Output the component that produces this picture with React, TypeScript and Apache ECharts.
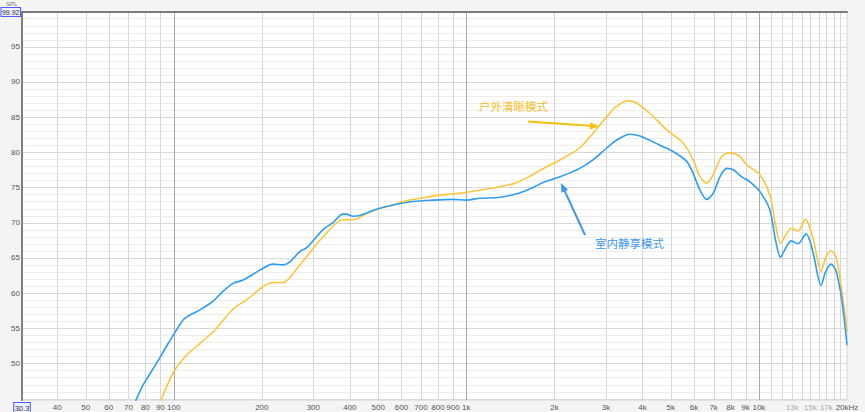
import React, { useEffect, useRef } from 'react';
import * as echarts from 'echarts';

const X_MIN = 30.3;
const X_MAX = 20000;
const Y_MIN = 44.8;
const Y_MAX = 99.92;

const xTickValues = [30.3, 40, 50, 60, 70, 80, 90, 100, 200, 300, 400, 500, 600, 700, 800, 900, 1000, 2000, 3000, 4000, 5000, 6000, 7000, 8000, 9000, 10000, 13000, 15000, 17000, 20000];
const xTickLabels = ['30.3', '40', '50', '60', '70', '80', '90', '100', '200', '300', '400', '500', '600', '700', '800', '900', '1k', '2k', '3k', '4k', '5k', '6k', '7k', '8k', '9k', '10k', '13k', '15k', '17k', '20kHz'];
const xDimTicks = [13000, 15000, 17000];
const yTickValues = [50, 55, 60, 65, 70, 75, 80, 85, 90, 95, 99.92];

const xGridValues = [40, 50, 60, 70, 80, 90, 100, 200, 300, 400, 500, 600, 700, 800, 900, 1000, 2000, 3000, 4000, 5000, 6000, 7000, 8000, 9000, 10000, 11000, 12000, 13000, 14000, 15000, 16000, 17000, 18000, 19000];
const xMajorGrid = [100, 1000, 10000];
const yGridValues: number[] = [];
for (let v = 45; v <= 99; v++) yGridValues.push(v);

// 室内静享模式 (blue)
const blueFreq = [73.5, 78.5, 87.3, 94.4, 102, 109, 123, 136, 147, 160, 172, 202, 218, 236, 249, 270, 284, 324, 350, 379, 389, 410, 432, 493, 562, 658, 770, 900, 1000, 1110, 1300, 1520, 1710, 1855, 2090, 2440, 2710, 3020, 3260, 3620, 3920, 4590, 5090, 5660, 5960, 6290, 6630, 6980, 7360, 7760, 8170, 8730, 9320, 10080, 10900, 11400, 11850, 12350, 12900, 13600, 14500, 15300, 16300, 16900, 17600, 18300, 19200, 20000];
const blueSpl = [44.3, 46.9, 50.0, 52.4, 54.7, 56.4, 57.6, 58.8, 60.2, 61.4, 61.8, 63.5, 64.1, 64.0, 64.4, 65.9, 66.4, 69.0, 70.0, 71.2, 71.2, 70.9, 71.0, 71.9, 72.5, 73.0, 73.2, 73.3, 73.2, 73.45, 73.6, 74.2, 75.1, 75.8, 76.5, 77.7, 78.9, 80.6, 81.7, 82.55, 82.3, 81.0, 80.1, 78.7, 77.0, 74.6, 73.3, 74.2, 76.5, 77.7, 77.5, 76.5, 75.8, 74.4, 71.8, 67.5, 65.1, 66.4, 67.4, 67.0, 68.4, 65.8, 61.1, 63.0, 64.1, 63.3, 59.0, 52.6];

// 户外清晰模式 (yellow)
const yellowFreq = [89.9, 99.4, 109, 123, 138, 160, 177, 202, 218, 236, 270, 280, 324, 379, 410, 456, 506, 562, 608, 693, 812, 975, 1110, 1300, 1465, 1650, 1855, 2090, 2440, 2710, 3020, 3260, 3575, 3820, 4240, 4840, 5510, 5960, 6290, 6630, 6980, 7460, 7960, 8610, 9080, 10080, 10900, 11400, 11850, 12350, 12900, 13600, 14400, 15300, 16300, 16900, 17600, 18300, 19200, 20000];
const yellowSpl = [44.5, 48.6, 50.9, 52.85, 54.7, 57.8, 59.0, 60.9, 61.5, 61.5, 64.0, 64.8, 68.0, 70.4, 70.4, 71.3, 72.0, 72.5, 73.0, 73.45, 73.9, 74.25, 74.6, 75.1, 75.6, 76.6, 77.8, 78.9, 80.6, 82.7, 85.05, 86.5, 87.3, 87.0, 85.5, 83.2, 81.3, 78.9, 76.5, 75.6, 76.8, 79.4, 79.9, 79.4, 78.2, 76.8, 73.9, 69.7, 67.1, 68.2, 69.2, 68.8, 70.5, 67.8, 63.1, 65.0, 66.0, 65.3, 60.4, 54.45];

const BLUE = '#2c9ef2';
const YELLOW = '#fcc63c';
const FONT = "'Liberation Sans', 'Noto Sans', sans-serif";
const CJK = "'Noto Sans CJK SC', sans-serif";

function arrowHead(tip: number[], from: number[], len: number, half: number) {
  const dx = tip[0] - from[0];
  const dy = tip[1] - from[1];
  const d = Math.sqrt(dx * dx + dy * dy);
  const ux = dx / d, uy = dy / d;
  const bx = tip[0] - ux * len, by = tip[1] - uy * len;
  const nx = -uy, ny = ux;
  return {
    base: [bx, by],
    points: [tip, [bx + nx * half, by + ny * half], [bx - nx * half, by - ny * half]],
  };
}

export default function App() {
  const ref = useRef<HTMLDivElement>(null);
  useEffect(() => {
    if (!ref.current) return;
    const chart = echarts.init(ref.current, undefined, { renderer: 'svg' });

    const yFrom = [528, 121.5], yTip = [599, 126.5];
    const yHead = arrowHead(yTip, yFrom, 9, 3.6);
    const bFrom = [585, 235], bTip = [561, 183];
    const bHead = arrowHead(bTip, bFrom, 9, 3.6);

    const boxStyle = {
      fontSize: 7, color: '#333', fontFamily: FONT,
      borderColor: '#4a5cff', borderWidth: 1, backgroundColor: '#eef0ff',
      padding: [1, 0.5, 0, 0.5],
    };

    const option: any = {
      animation: false,
      backgroundColor: '#f4f4f4',
      textStyle: { fontFamily: FONT },
      grid: {
        left: 22, right: 18, top: 12, bottom: 12,
        outerBoundsMode: 'none',
        containLabel: false,
        show: true, backgroundColor: '#ffffff', borderColor: '#d4d4d4', borderWidth: 1,
      },
      xAxis: [
        {
          type: 'log', min: X_MIN, max: X_MAX, position: 'bottom',
          axisLine: { show: false, onZero: false },
          axisTick: { show: false },
          splitLine: { show: false },
          axisLabel: {
            customValues: xTickValues,
            margin: 3,
            fontSize: 8,
            color: '#555',
            fontFamily: FONT,
            formatter: (v: number) => {
              const i = xTickValues.findIndex((t) => Math.abs(t - v) / t < 1e-6);
              if (i < 0) return '';
              const txt = xTickLabels[i];
              if (i === 0) return '{box|' + txt + '}';
              if (xDimTicks.includes(xTickValues[i])) return '{dim|' + txt + '}';
              return txt;
            },
            rich: {
              box: { ...boxStyle, fontSize: 7.5 },
              dim: { fontSize: 8, color: '#aaaaaa', fontFamily: FONT },
            },
          },
        },
        {
          type: 'log', min: X_MIN, max: X_MAX, position: 'top', z: 5,
          axisLine: { show: true, onZero: false, lineStyle: { color: '#7a7a7a', width: 2 } },
          axisTick: { show: false },
          axisLabel: { show: false },
          splitLine: { show: false },
        },
      ],
      yAxis: {
        type: 'value', min: Y_MIN, max: Y_MAX, position: 'left', z: 5,
        axisLine: { show: true, onZero: false, lineStyle: { color: '#808080', width: 2 } },
        axisTick: { show: false },
        splitLine: { show: false },
        axisLabel: {
          customValues: yTickValues,
          margin: 2,
          fontSize: 8,
          color: '#555',
          fontFamily: FONT,
          formatter: (v: number) => (Math.abs(v - Y_MAX) < 1e-6 ? '{box|99.92}' : String(v)),
          rich: {
            box: boxStyle,
          },
        },
      },
      series: [
        {
          type: 'custom', name: 'hgrid', silent: true, z: 1,
          data: yGridValues.map((v) => [X_MIN, v]),
          renderItem: (params: any, api: any) => {
            const v = api.value(1);
            const l = api.coord([X_MIN, v]);
            const r = api.coord([X_MAX, v]);
            const y = Math.round(l[1]) + 0.5;
            return {
              type: 'line',
              shape: { x1: l[0], y1: y, x2: r[0], y2: y },
              style: { stroke: v % 5 === 0 ? '#d8d8d8' : '#ededed', lineWidth: 1 },
            };
          },
        },
        {
          type: 'custom', name: 'vgrid', silent: true, z: 1,
          data: xGridValues.map((v) => [v, Y_MIN]),
          renderItem: (params: any, api: any) => {
            const v = api.value(0);
            const t = api.coord([v, Y_MAX]);
            const b = api.coord([v, Y_MIN]);
            const x = Math.round(t[0]) + 0.5;
            const major = xMajorGrid.includes(v);
            return {
              type: 'line',
              shape: { x1: x, y1: t[1], x2: x, y2: b[1] },
              style: { stroke: major ? '#a8a8a8' : '#d6d6d6', lineWidth: 1 },
            };
          },
        },
        {
          type: 'line', name: '户外清晰模式', z: 3,
          data: yellowFreq.map((f, i) => [f, yellowSpl[i]]),
          showSymbol: false, smooth: 0.3, clip: true,
          lineStyle: { color: YELLOW, width: 1.6 },
        },
        {
          type: 'line', name: '室内静享模式', z: 3,
          data: blueFreq.map((f, i) => [f, blueSpl[i]]),
          showSymbol: false, smooth: 0.3, clip: true,
          lineStyle: { color: BLUE, width: 1.6 },
        },
      ],
      graphic: [
        {
          type: 'text', left: 6, top: 1, z: 10, silent: true,
          style: { text: 'SPL', fontSize: 6, fill: '#777', fontFamily: FONT },
        },
        {
          type: 'text', x: 479, y: 106, z: 10, silent: true,
          style: { text: '户外清晰模式', fontSize: 11.5, fill: '#f8c12c', fontFamily: CJK, textVerticalAlign: 'middle', verticalAlign: 'middle' },
        },
        {
          type: 'line', z: 10, silent: true,
          shape: { x1: yFrom[0], y1: yFrom[1], x2: yHead.base[0], y2: yHead.base[1] },
          style: { stroke: '#f5c010', lineWidth: 2 },
        },
        {
          type: 'polygon', z: 10, silent: true,
          shape: { points: yHead.points },
          style: { fill: '#f5c010' },
        },
        {
          type: 'text', x: 595, y: 243, z: 10, silent: true,
          style: { text: '室内静享模式', fontSize: 11.5, fill: '#3d98ee', fontFamily: CJK, textVerticalAlign: 'middle', verticalAlign: 'middle' },
        },
        {
          type: 'line', z: 10, silent: true,
          shape: { x1: bFrom[0], y1: bFrom[1], x2: bHead.base[0], y2: bHead.base[1] },
          style: { stroke: '#3d95ee', lineWidth: 2 },
        },
        {
          type: 'polygon', z: 10, silent: true,
          shape: { points: bHead.points },
          style: { fill: '#3d95ee' },
        },
      ],
    };
    chart.setOption(option);
    return () => chart.dispose();
  }, []);

  return (
    <div
      ref={ref}
      style={{ position: 'absolute', left: 0, top: 0, width: 865, height: 412 }}
    />
  );
}
